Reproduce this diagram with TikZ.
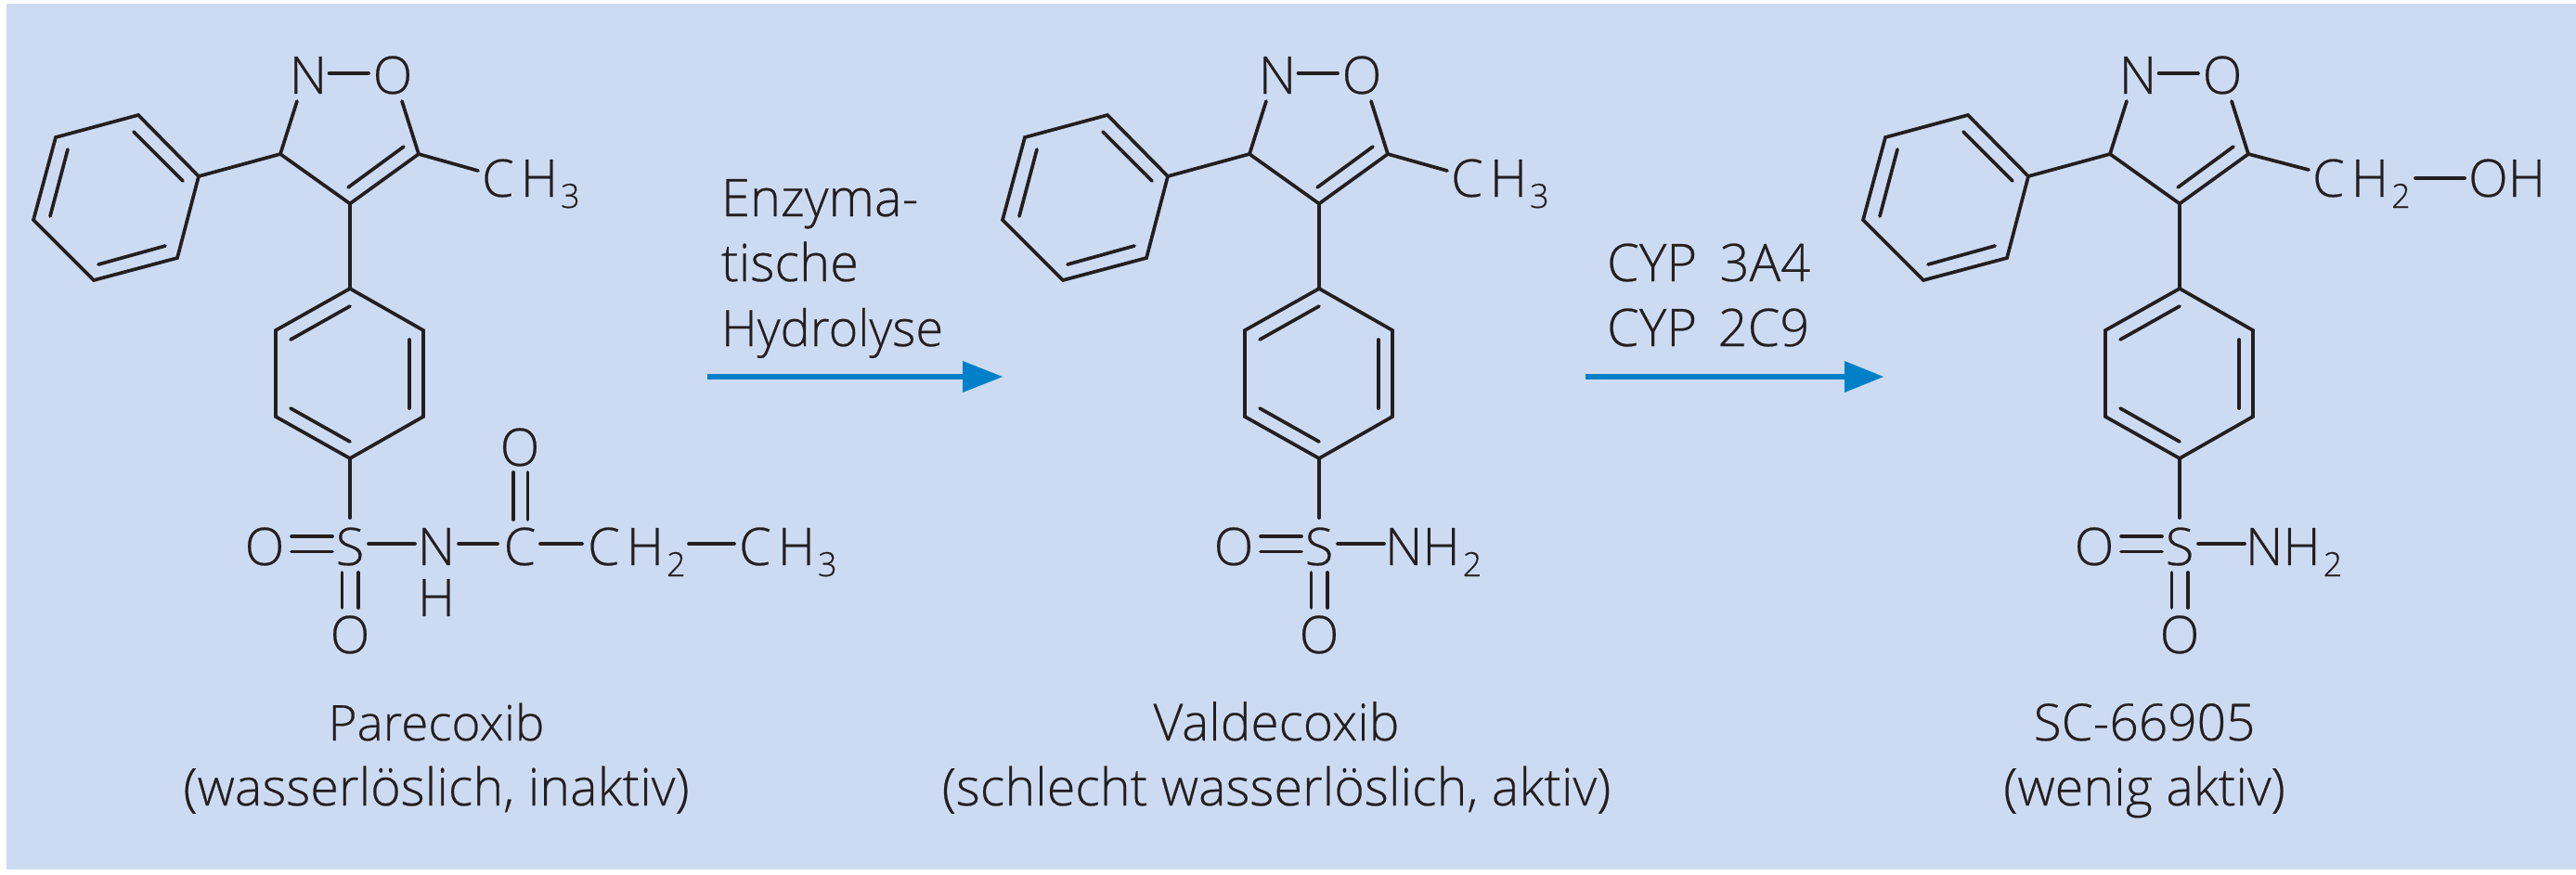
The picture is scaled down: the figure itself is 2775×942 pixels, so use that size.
\documentclass[tikz,border=0pt]{standalone}
\usepackage{fontspec}
\setmainfont[FakeBold=0.4]{Open Sans Light}
\definecolor{panel}{HTML}{CCDBF2}
\definecolor{ink}{HTML}{231F20}
\definecolor{arrowblue}{HTML}{0080C8}
\tikzset{
  bond/.style={draw=ink,line width=3.7pt,line cap=round,line join=miter},
  atom/.style={inner sep=0pt,outer sep=0pt,text=ink,anchor=base,font=\fontsize{56}{56}\selectfont},
  atomw/.style={atom,anchor=base west},
  caption/.style={atom,font=\fontsize{55}{55}\selectfont},
  captionb/.style={atom,font=\fontsize{55.7}{56}\selectfont},
  reaction/.style={draw=arrowblue,line width=6pt},
  headtip/.style={fill=arrowblue}
}
\newcommand{\subs}[1]{\raisebox{-12pt}{\fontsize{36}{36}\selectfont #1}}
\newcommand{\core}[1]{%
  \node[atom] (#1N) at (332,101) {N};
  \node[atom] (#1O) at (423,101) {O};
  \coordinate (#1Nr) at (354.5,79); \coordinate (#1Ol) at (397,79);
  \coordinate (#1Nb) at (320,109); \coordinate (#1Ob) at (433,109);
  \coordinate (#1C3) at (302,166); \coordinate (#1C5) at (451,166); \coordinate (#1C4) at (377,219.5);
  \coordinate (#1d1) at (375,202); \coordinate (#1d2) at (435,158);
  \coordinate (#1a) at (214,190); \coordinate (#1b) at (149,124); \coordinate (#1c) at (60,148);
  \coordinate (#1d) at (36,237); \coordinate (#1e) at (101,302); \coordinate (#1f) at (191,278);
  \coordinate (#1i1) at (144,142); \coordinate (#1i2) at (197,195);
  \coordinate (#1i3) at (73,161); \coordinate (#1i4) at (54,233);
  \coordinate (#1i5) at (106,285); \coordinate (#1i6) at (178,265);
  \coordinate (#1p) at (377,311); \coordinate (#1q) at (297,356); \coordinate (#1r) at (297,449);
  \coordinate (#1s) at (377,494); \coordinate (#1t) at (456,449); \coordinate (#1u) at (456,356);
  \coordinate (#1j1) at (313,366); \coordinate (#1j2) at (377,330);
  \coordinate (#1j3) at (441,366); \coordinate (#1j4) at (441,440);
  \coordinate (#1j5) at (313,440); \coordinate (#1j6) at (377,476);
  \node[atom] (#1S) at (377,609) {S};
  \node[atom] (#1Sl) at (285,609) {O};
  \node[atom] (#1Sd) at (377,704) {O};
  \coordinate (#1St) at (377,558);
  \coordinate (#1e1) at (314,578); \coordinate (#1e2) at (358,578);
  \coordinate (#1e3) at (314,594.5); \coordinate (#1e4) at (358,594.5);
  \coordinate (#1g1) at (368.5,617); \coordinate (#1g2) at (368.5,655);
  \coordinate (#1g3) at (386,617); \coordinate (#1g4) at (386,655);
  \coordinate (#1Sr) at (397,586); \coordinate (#1Na) at (447,586);
  \draw[bond] (#1Nr) -- (#1Ol);
  \draw[bond] (#1Nb) -- (#1C3) -- (#1C4) -- (#1C5) -- (#1Ob);
  \draw[bond] (#1d1) -- (#1d2);
  \draw[bond] (#1C3) -- (#1a);
  \draw[bond] (#1a) -- (#1b) -- (#1c) -- (#1d) -- (#1e) -- (#1f) -- cycle;
  \draw[bond] (#1i1) -- (#1i2);
  \draw[bond] (#1i3) -- (#1i4);
  \draw[bond] (#1i5) -- (#1i6);
  \draw[bond] (#1C4) -- (#1p);
  \draw[bond] (#1p) -- (#1q) -- (#1r) -- (#1s) -- (#1t) -- (#1u) -- cycle;
  \draw[bond] (#1j1) -- (#1j2);
  \draw[bond] (#1j3) -- (#1j4);
  \draw[bond] (#1j5) -- (#1j6);
  \draw[bond] (#1s) -- (#1St);
  \draw[bond] (#1e1) -- (#1e2);
  \draw[bond] (#1e3) -- (#1e4);
  \draw[bond] (#1g1) -- (#1g2);
  \draw[bond] (#1g3) -- (#1g4);
  \draw[bond] (#1Sr) -- (#1Na);
}
\begin{document}
\begin{tikzpicture}[x=1pt,y=-1pt]
\useasboundingbox (0,0) rectangle (2775,942);
\fill[white] (0,0) rectangle (2775,942);
\fill[panel] (7,4.5) rectangle (2775,937);
% Parecoxib
\begin{scope}
  \core{A}
  \coordinate (AMe) at (515,184);
  \draw[bond] (AC5) -- (AMe);
  \node[atomw] (ACH3) at (519,212) {C\kern7pt H\kern3pt\subs{3}};
  \node[atom] (AN2) at (470,609) {N};
  \node[atom] (AH) at (470,664) {H};
  \node[atom] (AC) at (560,609) {C};
  \node[atom] (AO2) at (560,502) {O};
  \node[atomw] (ACH2) at (633,609) {C\kern7pt H\kern3pt\subs{2}};
  \node[atomw] (ACH3b) at (796,609) {C\kern7pt H\kern3pt\subs{3}};
  \coordinate (An1) at (494,586); \coordinate (An2) at (536,586);
  \coordinate (An3) at (582,586); \coordinate (An4) at (627,586);
  \coordinate (An5) at (742,586); \coordinate (An6) at (791,586);
  \coordinate (Ac1) at (553,509); \coordinate (Ac2) at (553,560);
  \coordinate (Ac3) at (568.5,509); \coordinate (Ac4) at (568.5,560);
  \draw[bond] (An1) -- (An2);
  \draw[bond] (An3) -- (An4);
  \draw[bond] (An5) -- (An6);
  \draw[bond] (Ac1) -- (Ac2);
  \draw[bond] (Ac3) -- (Ac4);
  \node[caption,font=\fontsize{53}{53}\selectfont] (Aname) at (470,798) {Parecoxib};
  \node[captionb] (Ades) at (470,868) {(wasserlöslich, inaktiv)};
\end{scope}
% Valdecoxib
\begin{scope}[shift={(1044,0)}]
  \core{B}
  \coordinate (BMe) at (515,184);
  \draw[bond] (BC5) -- (BMe);
  \node[atomw] (BCH3) at (519,212) {C\kern7pt H\kern3pt\subs{3}};
  \node[atomw] (BNH) at (448,609) {NH\kern3pt\subs{2}};
  \node[caption] (Bname) at (331,798) {Valdecoxib};
  \node[captionb] (Bdes) at (331,868) {(schlecht wasserlöslich, aktiv)};
\end{scope}
% SC-66905
\begin{scope}[shift={(1971,0)}]
  \core{C}
  \coordinate (CMe) at (516,183);
  \coordinate (Cb1) at (631,192); \coordinate (Cb2) at (684,192);
  \draw[bond] (CC5) -- (CMe);
  \draw[bond] (Cb1) -- (Cb2);
  \node[atomw] (CCH2) at (520,212) {C\kern7pt H\kern3pt\subs{2}};
  \node[atomw] (COH) at (688,212) {OH};
  \node[atomw] (CNH) at (448,609) {NH\kern3pt\subs{2}};
  \node[caption] (Cname) at (339,798) {SC-66905};
  \node[captionb] (Cdes) at (339,868) {(wenig aktiv)};
\end{scope}
% reactions
\node[atomw] (t1) at (777,233) {Enzyma-};
\node[atomw] (t2) at (777,303) {tische};
\node[atomw,font=\fontsize{54}{54}\selectfont] (t3) at (777,373) {Hydrolyse};
\coordinate (r1s) at (762,406); \coordinate (r1e) at (1040,406);
\coordinate (r1t) at (1080,406); \coordinate (r1u) at (1037,389); \coordinate (r1d) at (1037,423);
\draw[reaction] (r1s) -- (r1e);
\fill[headtip] (r1u) -- (r1t) -- (r1d) -- cycle;
\node[atomw] (t4) at (1731,303) {CYP\kern10pt\ 3A4};
\node[atomw] (t5) at (1731,373) {CYP\kern8pt\ 2C9};
\coordinate (r2s) at (1708,406); \coordinate (r2e) at (1990,406);
\coordinate (r2t) at (2029,406); \coordinate (r2u) at (1987,389); \coordinate (r2d) at (1987,423);
\draw[reaction] (r2s) -- (r2e);
\fill[headtip] (r2u) -- (r2t) -- (r2d) -- cycle;
\end{tikzpicture}
\end{document}
